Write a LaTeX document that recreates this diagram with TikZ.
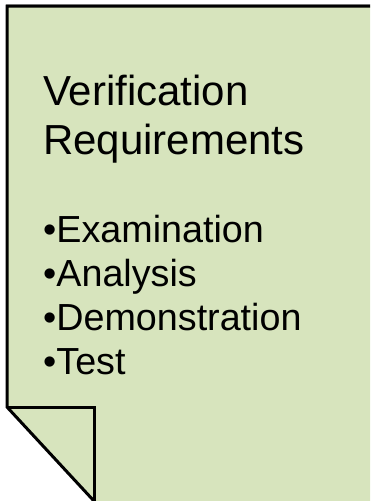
\documentclass[tikz,border=0pt]{standalone}
\usepackage{fontspec}
\setmainfont{Liberation Sans}
\definecolor{pagegreen}{HTML}{D7E4BD}
\begin{document}
\begin{tikzpicture}[x=1pt,y=-1pt,
  outline/.style={draw=black,line width=3pt,line join=miter},
  titletext/.style={anchor=base west,inner sep=0pt,font=\fontsize{42}{48}\selectfont},
  itemtext/.style={anchor=base west,inner sep=0pt,font=\fontsize{37.7}{43}\selectfont}]
\useasboundingbox (0,0) rectangle (370,501);
\clip (0,0) rectangle (370,501);
% page
\fill[pagegreen] (7,407) -- (7,6) -- (380,6) -- (380,510) -- (102.3,510) -- cycle;
\draw[gray!60,line width=0.8pt] (6,4) -- (380,4);
\draw[outline] (102.3,510) -- (7,407) -- (7,6) -- (380,6);
% folded corner
\coordinate (f1) at (7,407);
\coordinate (f2) at (94,407);
\coordinate (f3) at (94,510);
\draw[outline] (f1) -- (f2) -- (f3);
% texts
\node[titletext] (t1) at (43,105) {Verification};
\node[titletext] (t2) at (43,154) {Requirements};
\node[itemtext] (i1) at (43,242) {•Examination};
\node[itemtext] (i2) at (43,286) {•Analysis};
\node[itemtext] (i3) at (43,330) {•Demonstration};
\node[itemtext] (i4) at (43,374) {•Test};
\end{tikzpicture}
\end{document}
